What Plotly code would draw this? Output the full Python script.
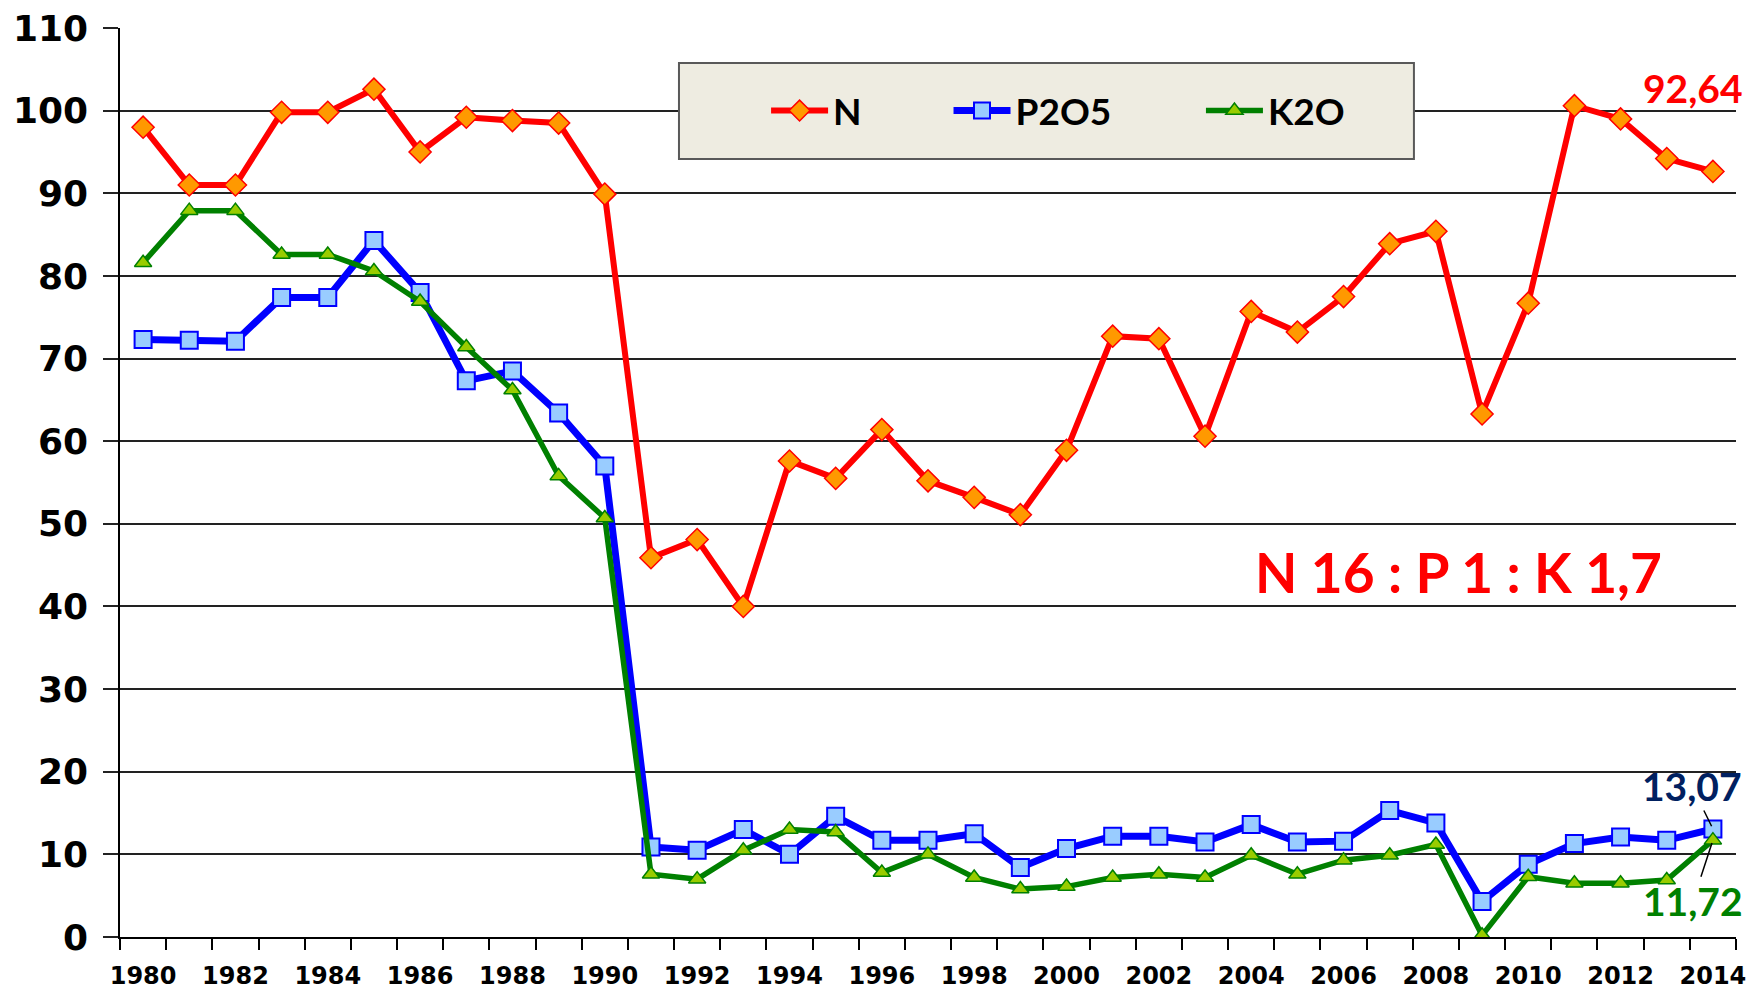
import plotly.graph_objects as go

years = list(range(1980, 2015))
n_vals = [98.0, 91.0, 91.0, 99.8, 99.8, 102.6, 95.0, 99.2, 98.8, 98.5, 89.9,
          45.9, 48.1, 40.0, 57.6, 55.5, 61.4, 55.2, 53.2, 51.1, 58.9,
          72.7, 72.4, 60.6, 75.7, 73.2, 77.5, 83.9, 85.4, 63.3, 76.7,
          100.6, 99.0, 94.2, 92.64]
p_vals = [72.3, 72.2, 72.1, 77.4, 77.4, 84.3, 78.0, 67.3, 68.5, 63.4, 57.0,
          10.9, 10.5, 13.0, 10.0, 14.6, 11.7, 11.7, 12.5, 8.4, 10.7,
          12.2, 12.2, 11.5, 13.6, 11.5, 11.6, 15.3, 13.8, 4.3, 8.8,
          11.3, 12.1, 11.7, 13.07]
k_vals = [81.6, 87.9, 87.9, 82.6, 82.6, 80.6, 76.9, 71.4, 66.2, 55.8, 50.7,
          7.6, 7.0, 10.5, 13.0, 12.7, 7.8, 10.0, 7.2, 5.8, 6.1,
          7.2, 7.6, 7.2, 9.9, 7.6, 9.3, 9.9, 11.2, 0.2, 7.3,
          6.5, 6.5, 6.9, 11.72]
tick_years = years[::2]
tick_labels = [str(y) for y in tick_years]

ratio_text = "N 16 : P 1 : K 1,7"
last_n, last_p, last_k = "92,64", "13,07", "11,72"

fig = go.Figure()
fig.add_trace(go.Scatter(
    x=years, y=n_vals, name="N", mode="lines+markers", legend="legend",
    line=dict(color="#FF0000", width=6),
    marker=dict(symbol="diamond", size=17, color="#FF9900", line=dict(color="#FF0000", width=1.5)),
))
fig.add_trace(go.Scatter(
    x=years, y=p_vals, name="P2O5", mode="lines+markers", legend="legend2",
    line=dict(color="#0000FF", width=7),
    marker=dict(symbol="square", size=17, color="#99CCFF", line=dict(color="#0000FF", width=2)),
))
fig.add_trace(go.Scatter(
    x=years, y=k_vals, name="K2O", mode="lines+markers", legend="legend3",
    line=dict(color="#008000", width=5.5),
    marker=dict(symbol="triangle-up", size=15, color="#99CC00", line=dict(color="#008000", width=1.5)),
))

legend_font = dict(family="Lato", size=37, color="black", weight="bold")
leg_common = dict(orientation="h", yanchor="middle", y=0.9087, xanchor="left", itemwidth=57,
                  bgcolor="rgba(0,0,0,0)", borderwidth=0, font=legend_font)

fig.update_layout(
    width=1748, height=991,
    margin=dict(l=120, r=12, t=28, b=54, autoexpand=False),
    plot_bgcolor="white", paper_bgcolor="white",
    showlegend=True,
    legend=dict(x=0.3998, **leg_common),
    legend2=dict(x=0.5127, **leg_common),
    legend3=dict(x=0.6689, **leg_common),
    xaxis=dict(
        range=[1979.5, 2014.5], tickmode="array", tickvals=tick_years, ticktext=tick_labels,
        ticks="", showgrid=False, zeroline=False, automargin=False,
        showline=True, linecolor="black", linewidth=1.5,
        tickfont=dict(family="DejaVu Sans", size=24, color="black", weight="bold"),
        ticklabelstandoff=16,
        minor=dict(tick0=1979.5, dtick=1, ticks="outside", ticklen=11,
                   tickcolor="black", tickwidth=1.5, showgrid=False),
    ),
    yaxis=dict(
        range=[0, 110], tick0=0, dtick=10, showgrid=True, gridcolor="#222222", gridwidth=1.5,
        zeroline=False, showline=True, linecolor="black", linewidth=1.5, automargin=False,
        ticks="outside", ticklen=15, tickcolor="#222222", tickwidth=1.5,
        tickfont=dict(family="DejaVu Sans", size=36, color="black", weight="bold"),
        ticklabelstandoff=8,
    ),
    shapes=[dict(type="rect", xref="paper", yref="paper",
                 x0=0.3459, x1=0.8007, y0=0.8559, y1=0.9615,
                 fillcolor="#EEECE1", line=dict(color="#595959", width=2), layer="above")],
    annotations=[
        dict(x=years[-1], y=n_vals[-1], xref="x", yref="y", text=last_n, showarrow=False,
             xshift=-20, yshift=83, font=dict(family="Lato", size=39, color="#FF0000", weight="bold")),
        dict(x=0.828, y=0.4015, xref="paper", yref="paper", xanchor="center", yanchor="middle",
             text=ratio_text, showarrow=False,
             font=dict(family="Lato", size=55, color="#FF0000", weight="bold")),
        dict(x=years[-1], y=p_vals[-1], xref="x", yref="y", text=last_p, showarrow=True,
             arrowhead=0, arrowwidth=1.5, arrowcolor="black", ax=-21, ay=-43, standoff=3,
             font=dict(family="Lato", size=39, color="#002060", weight="bold")),
        dict(x=years[-1], y=k_vals[-1], xref="x", yref="y", text=last_k, showarrow=True,
             arrowhead=0, arrowwidth=1.5, arrowcolor="black", ax=-20, ay=61, standoff=3,
             font=dict(family="Lato", size=39, color="#008000", weight="bold")),
    ],
)

fig.write_html("out.html", config={"displayModeBar": False},
               post_script="document.body.style.margin='0';")
